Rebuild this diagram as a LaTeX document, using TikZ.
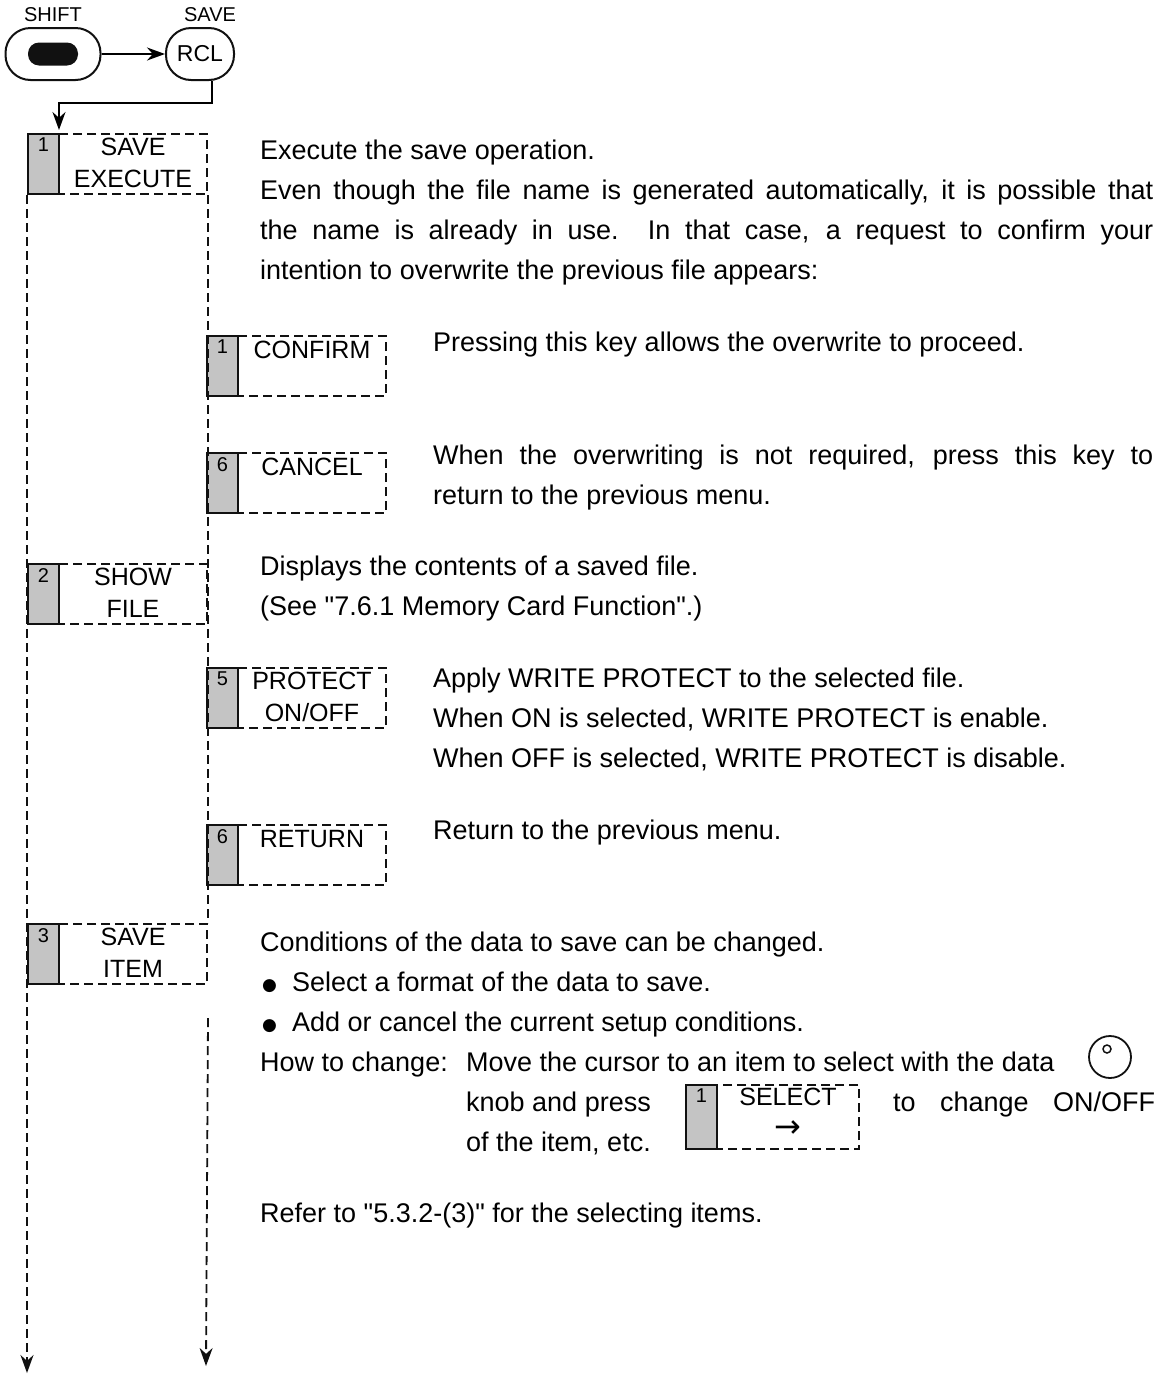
\documentclass[tikz,border=0pt]{standalone}
\usepackage{fontspec}
\setmainfont{Liberation Sans}
\newfontfamily\glyphfont{DejaVu Sans}
\usetikzlibrary{arrows.meta}
\definecolor{KeyCellFill}{HTML}{C4C4C4}
\definecolor{KeyInk}{HTML}{111111}

\tikzset{
  keyframe/.style={draw=KeyInk,line width=2pt,dash pattern=on 9pt off 5pt,minimum width=179pt,minimum height=60pt,anchor=north west,inner sep=0pt},
  keycell/.style={draw=KeyInk,solid,fill=KeyCellFill,line width=2pt,minimum width=31pt,minimum height=60pt,anchor=north west,inner sep=0pt},
  keydigit/.style={font=\fontsize{20}{20}\selectfont,anchor=north,inner sep=0pt},
  keylabel/.style={font=\fontsize{25}{32}\selectfont,align=center,anchor=north,inner sep=0pt},
  bodytext/.style={font=\fontsize{27}{40}\selectfont,align=left,anchor=north west,inner sep=0pt},
  panelkey/.style={draw=KeyInk,line width=2pt,rounded corners=25pt,minimum height=52pt,inner sep=0pt},
  flowline/.style={draw=KeyInk,line width=1.8pt,dash pattern=on 9pt off 5pt},
  flowtip/.style={-{Stealth[length=18pt,width=13pt]}}
}

\begin{document}
\begin{tikzpicture}[x=1pt,y=-1pt]
  \useasboundingbox (0,0) rectangle (1163,1374);

  % panel keys
  \node[font=\fontsize{20}{20}\selectfont] (shiftName) at (53,15) {SHIFT};
  \node[font=\fontsize{20}{20}\selectfont] (saveName) at (210,15) {SAVE};
  \node[panelkey,minimum width=95pt] (shiftKey) at (53,54) {};
  \node[fill=KeyInk,rounded corners=11pt,minimum width=50pt,minimum height=23pt,inner sep=0pt] (shiftDot) at (53,54) {};
  \node[panelkey,minimum width=68pt,font=\fontsize{23}{23}\selectfont] (rclKey) at (200,54) {RCL};
  \draw[line width=2pt,flowtip] (shiftKey) -- (rclKey);
  \draw[line width=1.8pt,flowtip,shorten >=3pt] ([xshift=12pt]rclKey.south) -- ++(0,22) -| (59,133);

  % flow lines
  \coordinate (leftEnd) at (27,1373);
  \coordinate (rightEnd) at (206,1366);

  % main menu keys
  \node[keyframe] (exeBox) at (27,133) {};
  \node[keycell] (exeCell) at (27,133) {};
  \node[keydigit] (exeNum) at ([yshift=-5pt]exeCell.north) {1};
  \node[keylabel] (exeText) at ([xshift=15.5pt,yshift=-5pt]exeBox.north) {SAVE\\EXECUTE};

  \node[keyframe] (showBox) at (27,563) {};
  \node[keycell] (showCell) at (27,563) {};
  \node[keydigit] (showNum) at ([yshift=-5pt]showCell.north) {2};
  \node[keylabel] (showText) at ([xshift=15.5pt,yshift=-5pt]showBox.north) {SHOW\\FILE};

  \node[keyframe] (itemBox) at (27,923) {};
  \node[keycell] (itemCell) at (27,923) {};
  \node[keydigit] (itemNum) at ([yshift=-5pt]itemCell.north) {3};
  \node[keylabel] (itemText) at ([xshift=15.5pt,yshift=-5pt]itemBox.north) {SAVE\\ITEM};

  % sub menu keys
  \node[keyframe] (confBox) at (206,335) {};
  \node[keycell] (confCell) at (206,335) {};
  \node[keydigit] (confNum) at ([yshift=-5pt]confCell.north) {1};
  \node[keylabel] (confText) at ([xshift=15.5pt,yshift=-6pt]confBox.north) {CONFIRM};

  \node[keyframe] (cancBox) at (206,452) {};
  \node[keycell] (cancCell) at (206,452) {};
  \node[keydigit] (cancNum) at ([yshift=-5pt]cancCell.north) {6};
  \node[keylabel] (cancText) at ([xshift=15.5pt,yshift=-6pt]cancBox.north) {CANCEL};

  \node[keyframe] (protBox) at (206,667) {};
  \node[keycell] (protCell) at (206,667) {};
  \node[keydigit] (protNum) at ([yshift=-5pt]protCell.north) {5};
  \node[keylabel] (protText) at ([xshift=15.5pt,yshift=-5pt]protBox.north) {PROTECT\\ON/OFF};

  \node[keyframe] (retBox) at (206,824) {};
  \node[keycell] (retCell) at (206,824) {};
  \node[keydigit] (retNum) at ([yshift=-5pt]retCell.north) {6};
  \node[keylabel] (retText) at ([xshift=15.5pt,yshift=-6pt]retBox.north) {RETURN};

  \draw[flowline,flowtip] (exeBox.south west) -- (leftEnd);
  \draw[flowline] (exeBox.south east) -- (itemBox.north east);
  \draw[flowline,flowtip] ([yshift=-33pt]itemBox.south east) -- (rightEnd);

  % descriptions
  \node[bodytext] (exeNote) at (260,140) {Execute the save operation.\\
    \makebox[893pt][s]{Even though the file name is generated automatically, it is possible that}\\
    \makebox[893pt][s]{the name is already in use.\ \ In that case, a request to confirm your}\\
    intention to overwrite the previous file appears:};
  \node[bodytext] (confNote) at (433,332) {Pressing this key allows the overwrite to proceed.};
  \node[bodytext] (cancNote) at (433,445) {\makebox[720pt][s]{When the overwriting is not required, press this key to}\\
    return to the previous menu.};
  \node[bodytext] (showNote) at (260,556) {Displays the contents of a saved file.\\
    (See \textquotedbl 7.6.1 Memory Card Function\textquotedbl.)};
  \node[bodytext] (protNote) at (433,668) {Apply WRITE PROTECT to the selected file.\\
    When ON is selected, WRITE PROTECT is enable.\\
    When OFF is selected, WRITE PROTECT is disable.};
  \node[bodytext] (retNote) at (433,820) {Return to the previous menu.};
  \node[bodytext] (itemNote) at (260,932) {Conditions of the data to save can be changed.\\
    \makebox[32pt][l]{\hspace*{2pt}\raisebox{1pt}{\glyphfont\fontsize{17}{40}\selectfont ●}}Select a format of the data to save.\\
    \makebox[32pt][l]{\hspace*{2pt}\raisebox{1pt}{\glyphfont\fontsize{17}{40}\selectfont ●}}Add or cancel the current setup conditions.\\
    \makebox[206pt][l]{How to change:}Move the cursor to an item to select with the data\\
    \hspace*{206pt}knob and press\\
    \hspace*{206pt}of the item, etc.};
  \node[circle,draw=KeyInk,line width=1.8pt,minimum size=42pt,inner sep=0pt] (dataKnob) at (1110,1057) {};
  \node[circle,draw=KeyInk,line width=1.5pt,minimum size=8pt,inner sep=0pt] (knobMark) at ([xshift=-3pt,yshift=8pt]dataKnob.center) {};

  \node[keyframe,minimum width=173pt,minimum height=64pt] (selBox) at (685,1084) {};
  \node[keycell,minimum height=64pt] (selCell) at (685,1084) {};
  \node[keydigit] (selNum) at ([yshift=-5pt]selCell.north) {1};
  \node[keylabel] (selText) at ([xshift=15.5pt,yshift=-4pt]selBox.north) {SELECT\\[0pt]{\glyphfont\fontsize{32}{28}\selectfont →}};
  \node[bodytext] (chgNote) at (893,1092) {\makebox[262pt][s]{to change ON/OFF}};

  \node[bodytext] (refNote) at (260,1203) {Refer to \textquotedbl 5.3.2-(3)\textquotedbl{} for the selecting items.};
\end{tikzpicture}
\end{document}
